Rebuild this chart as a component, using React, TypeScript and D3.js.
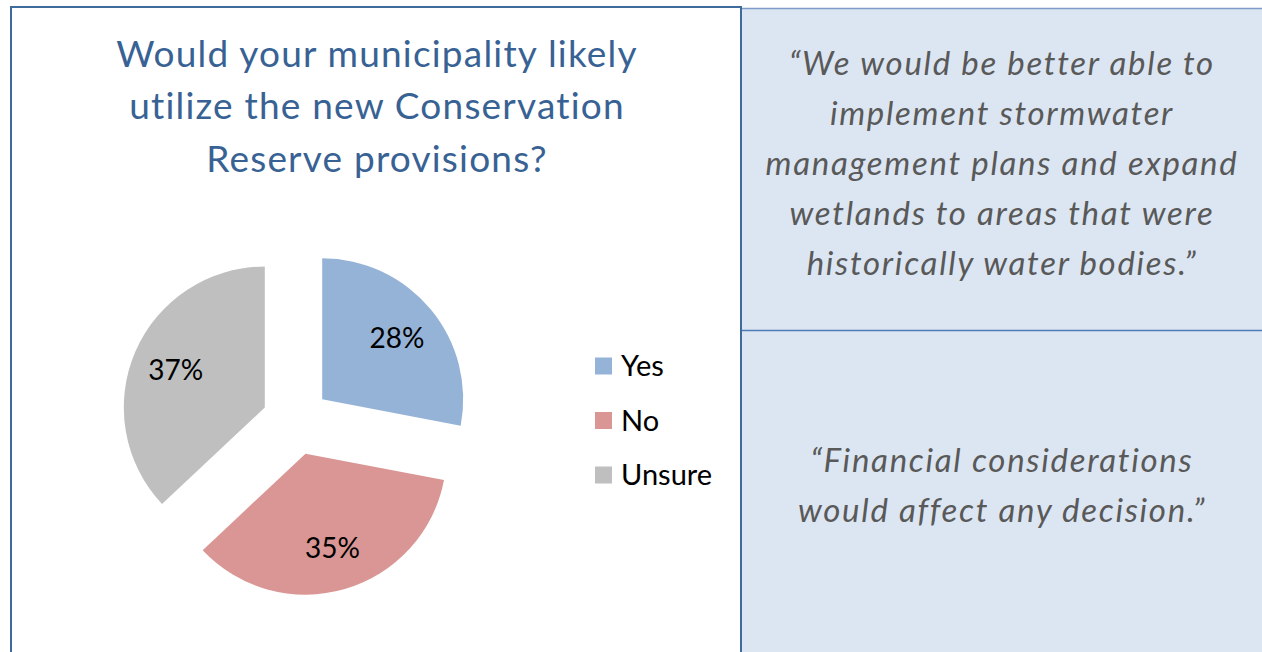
import React from "react";
import * as d3 from "d3";

const categories = ["Yes", "No", "Unsure"];
const values = [28, 35, 37];
const colors = ["#95B3D7", "#D99694", "#BFBFBF"];
const titleLines = [
  "Would your municipality likely",
  "utilize the new Conservation",
  "Reserve provisions?",
];
const quote1 = [
  "\u201CWe would be better able to",
  "implement stormwater",
  "management plans and expand",
  "wetlands to areas that were",
  "historically water bodies.\u201D",
];
const quote2 = ["\u201CFinancial considerations", "would affect any decision.\u201D"];

const FONT = "Lato, 'Open Sans', sans-serif";

export default function App() {
  const W = 1262;
  const H = 652;
  const cx = 296;
  const cy = 421;
  const r = 141;
  const explode = 34;

  const pie = d3
    .pie<number>()
    .sort(null)
    .value((d) => d)
    .startAngle(0)
    .endAngle(2 * Math.PI);
  const arcs = pie(values);
  const arc = d3.arc<d3.PieArcDatum<number>>().innerRadius(0).outerRadius(r);
  const labelArc = d3
    .arc<d3.PieArcDatum<number>>()
    .innerRadius(97)
    .outerRadius(97);
  const total = d3.sum(values);

  const legendY = d3
    .scalePoint<string>()
    .domain(categories)
    .range([366, 475]);

  return (
    <svg
      width={W}
      height={H}
      style={{ position: "absolute", left: 0, top: 0, display: "block" }}
      viewBox={`0 0 ${W} ${H}`}
    >
      <rect x={0} y={0} width={W} height={H} fill="#ffffff" />
      {/* right panel */}
      <rect x={742} y={9} width={W - 742} height={H - 9} fill="#DCE6F2" />
      <line x1={742} x2={W} y1={8.5} y2={8.5} stroke="#7F9CC8" strokeWidth={1.5} />
      <line x1={742} x2={W} y1={330.5} y2={330.5} stroke="#4F7CB8" strokeWidth={1.5} />
      {/* left panel borders */}
      <line x1={11} x2={11} y1={6} y2={H} stroke="#3F6A9C" strokeWidth={2} />
      <line x1={10} x2={742} y1={7} y2={7} stroke="#3F6A9C" strokeWidth={2} />
      <line x1={741} x2={741} y1={6} y2={H} stroke="#3F6A9C" strokeWidth={2} />

      {/* title */}
      <text
        textAnchor="middle"
        fontFamily={FONT}
        fontSize={37}
        letterSpacing={1.2}
        fill="#386294"
      >
        {titleLines.map((t, i) => (
          <tspan key={i} x={377} y={66.5 + i * 52.5}>
            {t}
          </tspan>
        ))}
      </text>

      {/* pie */}
      <g transform={`translate(${cx},${cy})`}>
        {arcs.map((a, i) => {
          const mid = (a.startAngle + a.endAngle) / 2;
          const dx = Math.sin(mid) * explode;
          const dy = -Math.cos(mid) * explode;
          const [lx, ly] = labelArc.centroid(a);
          return (
            <g key={i} transform={`translate(${dx},${dy})`}>
              <path d={arc(a) || ""} fill={colors[i]} />
              <text
                x={lx}
                y={ly}
                textAnchor="middle"
                dominantBaseline="central"
                fontFamily={FONT}
                fontSize={28}
                fill="#000000"
              >
                {Math.round((a.value / total) * 100)}%
              </text>
            </g>
          );
        })}
      </g>

      {/* legend */}
      {categories.map((c, i) => (
        <g key={c} transform={`translate(595,${legendY(c)})`}>
          <rect x={0} y={-8.5} width={17} height={17} fill={colors[i]} />
          <text
            x={26}
            y={10}
            fontFamily={FONT}
            fontSize={29}
            fill="#000000"
          >
            {c}
          </text>
        </g>
      ))}

      {/* quotes */}
      <text
        textAnchor="middle"
        fontFamily={FONT}
        fontStyle="italic"
        fontSize={33}
        letterSpacing={1.7}
        fill="#595959"
      >
        {quote1.map((t, i) => (
          <tspan key={i} x={1002} y={75 + i * 50}>
            {t}
          </tspan>
        ))}
      </text>
      <text
        textAnchor="middle"
        fontFamily={FONT}
        fontStyle="italic"
        fontSize={33}
        letterSpacing={1.7}
        fill="#595959"
      >
        {quote2.map((t, i) => (
          <tspan key={i} x={1002} y={472 + i * 50}>
            {t}
          </tspan>
        ))}
      </text>
    </svg>
  );
}
